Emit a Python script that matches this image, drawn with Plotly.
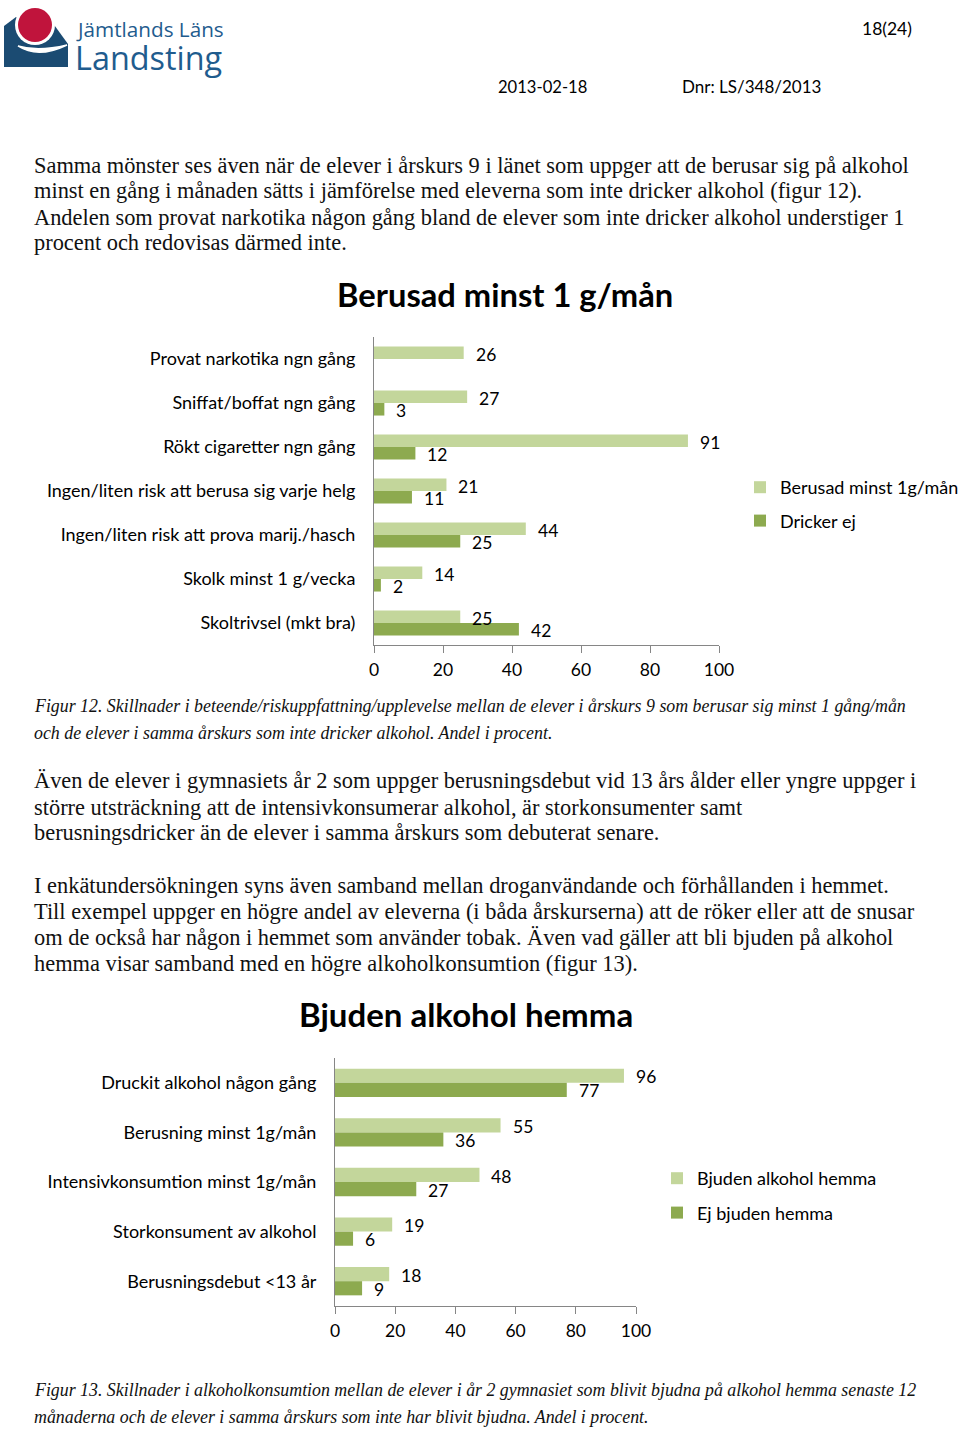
import plotly.graph_objects as go

# ---------------- data ----------------
cats1 = ["Provat narkotika ngn gång", "Sniffat/boffat ngn gång", "Rökt cigaretter ngn gång",
         "Ingen/liten risk att berusa sig varje helg", "Ingen/liten risk att prova marij./hasch",
         "Skolk minst 1 g/vecka", "Skoltrivsel (mkt bra)"]
berusad = [26, 27, 91, 21, 44, 14, 25]
dricker_ej = [None, 3, 12, 11, 25, 2, 42]

cats2 = ["Druckit alkohol någon gång", "Berusning minst 1g/mån", "Intensivkonsumtion minst 1g/mån",
         "Storkonsument av alkohol", "Berusningsdebut <13 år"]
bjuden = [96, 55, 48, 19, 18]
ej_bjuden = [77, 36, 27, 6, 9]

xticks = [0, 20, 40, 60, 80, 100]

# ---------------- styling ----------------
W, H = 960, 1432
LIGHT = "#C3D69B"
DARK = "#8DAA4F"
AXIS = "#868686"
SANS = "Lato, 'Open Sans', sans-serif"
SERIF = "'Liberation Serif', 'DejaVu Serif', serif"
TXT = "#111111"


def px(x):
    return x / W


def py(y):
    return 1 - y / H


fig = go.Figure()

fig.add_trace(go.Bar(y=cats1, x=berusad, orientation="h", name="Berusad minst 1g/mån",
                     marker=dict(color=LIGHT, line=dict(width=0)), xaxis="x", yaxis="y",
                     legend="legend", legendgroup="a"))
fig.add_trace(go.Bar(y=cats1, x=dricker_ej, orientation="h", name="Dricker ej",
                     marker=dict(color=DARK, line=dict(width=0)), xaxis="x", yaxis="y",
                     legend="legend", legendgroup="b"))
fig.add_trace(go.Bar(y=cats2, x=bjuden, orientation="h", name="Bjuden alkohol hemma",
                     marker=dict(color=LIGHT, line=dict(width=0)), xaxis="x2", yaxis="y2",
                     legend="legend2", legendgroup="c"))
fig.add_trace(go.Bar(y=cats2, x=ej_bjuden, orientation="h", name="Ej bjuden hemma",
                     marker=dict(color=DARK, line=dict(width=0)), xaxis="x2", yaxis="y2",
                     legend="legend2", legendgroup="d"))

annotations = []

# value labels positioned through the axes
def value_labels(cats, vals, xref, yref, yshift):
    for c, v in zip(cats, vals):
        if v is None:
            continue
        annotations.append(dict(x=v, y=c, xref=xref, yref=yref, text=str(v), showarrow=False,
                                xanchor="left", yanchor="middle", xshift=10, yshift=yshift,
                                font=dict(family=SANS, size=17.5, color="#000")))

value_labels(cats1, berusad, "x", "y", 5)
value_labels(cats1, dricker_ej, "x", "y", -7)
value_labels(cats2, bjuden, "x2", "y2", 6)
value_labels(cats2, ej_bjuden, "x2", "y2", -8)

# chart titles
annotations.append(dict(x=px(505), y=py(294), xref="paper", yref="paper", text="<b>Berusad minst 1 g/mån</b>",
                        showarrow=False, xanchor="center", yanchor="middle",
                        font=dict(family=SANS, size=32.7, color="#000")))
annotations.append(dict(x=px(466), y=py(1014), xref="paper", yref="paper", text="<b>Bjuden alkohol hemma</b>",
                        showarrow=False, xanchor="center", yanchor="middle",
                        font=dict(family=SANS, size=33, color="#000")))

# generic text helper
def txt(x, y, s, size, family=SANS, color="#000", anchor="left"):
    annotations.append(dict(x=px(x), y=py(y), xref="paper", yref="paper", text=s, showarrow=False,
                            xanchor=anchor, yanchor="middle", align="left",
                            font=dict(family=family, size=size, color=color)))

# header
txt(860, 29, "18(24)", 17.5)
txt(496, 87, "2013-02-18", 16.6)
txt(680, 87, "Dnr: LS/348/2013", 17)
txt(74, 29, "Jämtlands Läns", 20.7, family="'Open Sans', sans-serif", color="#1F5C8E")
txt(73, 57, "Landsting", 32.4, family="'Open Sans', sans-serif", color="#1F5C8E")

# body text
BODY = 22.4
p1 = ["Samma mönster ses även när de elever i årskurs 9 i länet som uppger att de berusar sig på alkohol",
      "minst en gång i månaden sätts i jämförelse med eleverna som inte dricker alkohol (figur 12).",
      "Andelen som provat narkotika någon gång bland de elever som inte dricker alkohol understiger 1",
      "procent och redovisas därmed inte."]
for i, s in enumerate(p1):
    txt(32, 165 + 26 * i, s, BODY, family=SERIF, color=TXT)

CAP = 17.85
cap1 = ["Figur 12. Skillnader i beteende/riskuppfattning/upplevelse mellan de elever i årskurs 9 som berusar sig minst 1 gång/mån",
        "och de elever i samma årskurs som inte dricker alkohol. Andel i procent."]
for i, s in enumerate(cap1):
    txt(32, 706 + 27 * i, "<i>" + s + "</i>", CAP, family=SERIF, color=TXT)

p2 = ["Även de elever i gymnasiets år 2 som uppger berusningsdebut vid 13 års ålder eller yngre uppger i",
      "större utsträckning att de intensivkonsumerar alkohol, är storkonsumenter samt",
      "berusningsdricker än de elever i samma årskurs som debuterat senare."]
for i, s in enumerate(p2):
    txt(32, 781 + 26 * i, s, BODY, family=SERIF, color=TXT)

p3 = ["I enkätundersökningen syns även samband mellan droganvändande och förhållanden i hemmet.",
      "Till exempel uppger en högre andel av eleverna (i båda årskurserna) att de röker eller att de snusar",
      "om de också har någon i hemmet som använder tobak. Även vad gäller att bli bjuden på alkohol",
      "hemma visar samband med en högre alkoholkonsumtion (figur 13)."]
for i, s in enumerate(p3):
    txt(32, 885 + 26 * i, s, BODY, family=SERIF, color=TXT)

cap2 = ["Figur 13. Skillnader i alkoholkonsumtion mellan de elever i år 2 gymnasiet som blivit bjudna på alkohol hemma senaste 12",
        "månaderna och de elever i samma årskurs som inte har blivit bjudna. Andel i procent."]
for i, s in enumerate(cap2):
    txt(32, 1390 + 27 * i, "<i>" + s + "</i>", CAP, family=SERIF, color=TXT)

# logo shapes (decoration, pixel -> paper)
def ppath(points, close=True):
    d = ""
    for cmd, x, y in points:
        d += f"{cmd} {px(x):.5f},{py(y):.5f} "
    if close:
        d += "Z"
    return d

shapes = []
shapes.append(dict(type="path", xref="paper", yref="paper",
                   path=ppath([("M", 4, 67), ("L", 4, 26), ("L", 16, 17), ("L", 52, 22),
                               ("L", 68, 44), ("L", 68, 67)]),
                   fillcolor="#1B4B72", line=dict(width=0), layer="above"))
shapes.append(dict(type="circle", xref="paper", yref="paper",
                   x0=px(15), x1=px(55), y0=py(45), y1=py(5),
                   fillcolor="#FFFFFF", line=dict(width=0), layer="above"))
shapes.append(dict(type="circle", xref="paper", yref="paper",
                   x0=px(18), x1=px(52), y0=py(42), y1=py(8),
                   fillcolor="#C0143C", line=dict(width=0), layer="above"))
shapes.append(dict(type="path", xref="paper", yref="paper",
                   path=f"M {px(18):.5f},{py(46):.5f} Q {px(38):.5f},{py(59):.5f} {px(67):.5f},{py(45):.5f} "
                        f"Q {px(38):.5f},{py(52):.5f} {px(18):.5f},{py(46):.5f} Z",
                   fillcolor="#FFFFFF", line=dict(color="#FFFFFF", width=1.5), layer="above"))

common_x = dict(range=[0, 100], tickvals=xticks, ticks="outside", ticklen=7, tickcolor=AXIS,
                showline=True, linecolor=AXIS, linewidth=1, showgrid=False, zeroline=False,
                tickfont=dict(family=SANS, size=17.5, color="#000"), ticklabelstandoff=2, fixedrange=True)
common_y = dict(showline=True, linecolor=AXIS, linewidth=1, ticks="", showgrid=False, zeroline=False,
                autorange="reversed", ticklabelstandoff=14, fixedrange=True)

fig.update_layout(
    width=W, height=H, margin=dict(l=0, r=0, t=0, b=0, autoexpand=False),
    paper_bgcolor="white", plot_bgcolor="white",
    barmode="group", bargap=0.43, bargroupgap=0,
    xaxis=dict(domain=[px(374), px(719)], anchor="y", **common_x),
    yaxis=dict(domain=[py(645), py(337)], anchor="x", categoryorder="array", categoryarray=cats1,
               tickfont=dict(family=SANS, size=18, color="#000"), **common_y),
    xaxis2=dict(domain=[px(335), px(636)], anchor="y2", **common_x),
    yaxis2=dict(domain=[py(1306), py(1058)], anchor="x2", categoryorder="array", categoryarray=cats2,
                tickfont=dict(family=SANS, size=18, color="#000"), **common_y),
    legend=dict(x=px(740), y=py(469), xanchor="left", yanchor="top", traceorder="grouped",
                tracegroupgap=7, font=dict(family=SANS, size=18, color="#000"),
                bgcolor="rgba(0,0,0,0)", itemclick=False, itemdoubleclick=False),
    legend2=dict(x=px(657), y=py(1160), xanchor="left", yanchor="top", traceorder="grouped",
                 tracegroupgap=8, font=dict(family=SANS, size=18, color="#000"),
                 bgcolor="rgba(0,0,0,0)", itemclick=False, itemdoubleclick=False),
    showlegend=True,
    annotations=annotations,
    shapes=shapes,
)

fig.write_html("out.html")
